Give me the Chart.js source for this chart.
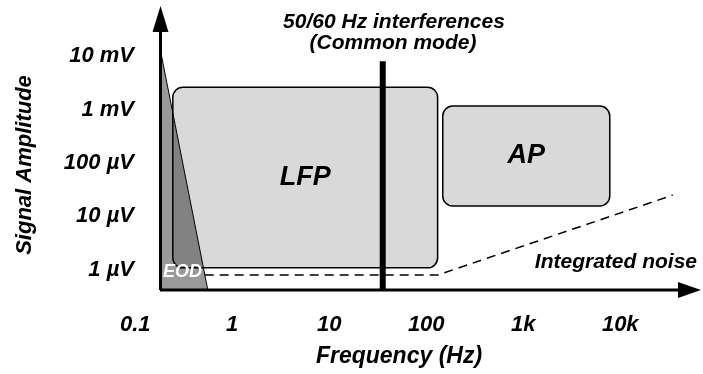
<!DOCTYPE html>
<html>
<head>
<meta charset="utf-8">
<script src="https://cdn.jsdelivr.net/npm/chart.js@4/dist/chart.umd.min.js"></script>
<style>
	html, body { margin: 0; padding: 0; background: #fff; }
</style>
</head>
<body>
<canvas id="grafico" width="703" height="374"></canvas>
<script>
// assi: frequenza in Hz, ampiezza in µV (entrambi logaritmici)
const X_RANGE = [0.18, 68000];
const Y_RANGE = [0.42, 86000];
const freqTicks = [0.1, 1, 10, 100, 1000, 10000];
const freqLabels = ['0.1', '1', '10', '100', '1k', '10k'];
const ampTicks = [1, 10, 100, 1000, 10000];
const ampLabels = ['1 µV', '10 µV', '100 µV', '1 mV', '10 mV'];

// riquadri LFP e AP: [min, max]
const lfpFreq = [0.244, 131];
const lfpAmp = [1.09, 2600];
const apFreq = [148, 7800];
const apAmp = [15.7, 1160];

// EOD (triangolo)
const eodFreq = [0.18, 0.56];
const eodAmp = [14000, 0.42];

// interferenze di rete
const reteFreq = [35.6, 35.6];
const reteAmp = [0.42, 8000];

// rumore integrato
const rumoreFreq = [0.52, 131, 159, 34800];
const rumoreAmp = [0.8, 0.8, 0.9, 25];

const FONT = 'Liberation Sans, Arial, sans-serif';
const font = (px) => 'italic bold ' + px + 'px ' + FONT;
const punti = (xs, ys) => xs.map((v, i) => ({ x: v, y: ys[i] }));

const disegno = {
	id: 'disegno',
	beforeDatasetsDraw(chart){
		const { ctx, scales: { x, y } } = chart;
		ctx.save();
		[[lfpFreq, lfpAmp], [apFreq, apAmp]].forEach(([f, a]) => {
			const x0 = x.getPixelForValue(f[0]), x1 = x.getPixelForValue(f[1]);
			const y0 = y.getPixelForValue(a[1]), y1 = y.getPixelForValue(a[0]);
			ctx.beginPath();
			ctx.roundRect(x0, y0, x1 - x0, y1 - y0, 10);
			ctx.fillStyle = '#d9d9d9';
			ctx.fill();
			ctx.lineWidth = 1.5;
			ctx.strokeStyle = '#000';
			ctx.stroke();
		});
		ctx.restore();
	},
	afterDatasetsDraw(chart){
		const { ctx, chartArea: a, scales: { x, y } } = chart;
		ctx.save();
		// assi con frecce
		ctx.strokeStyle = '#000';
		ctx.fillStyle = '#000';
		ctx.lineWidth = 3;
		ctx.beginPath();
		ctx.moveTo(a.left + 0.5, a.bottom);
		ctx.lineTo(a.left + 0.5, a.top + 24);
		ctx.moveTo(a.left, a.bottom);
		ctx.lineTo(a.right - 21, a.bottom);
		ctx.stroke();
		ctx.beginPath();
		ctx.moveTo(a.left + 0.5, a.top);
		ctx.lineTo(a.left - 7.5, a.top + 26);
		ctx.lineTo(a.left + 8.5, a.top + 26);
		ctx.closePath();
		ctx.fill();
		ctx.beginPath();
		ctx.moveTo(a.right, a.bottom);
		ctx.lineTo(a.right - 23, a.bottom - 8);
		ctx.lineTo(a.right - 23, a.bottom + 8);
		ctx.closePath();
		ctx.fill();

		// etichette dei riquadri
		ctx.textAlign = 'center';
		ctx.textBaseline = 'middle';
		ctx.font = font(27);
		const centro = (f, amp) => [
			(x.getPixelForValue(f[0]) + x.getPixelForValue(f[1])) / 2,
			(y.getPixelForValue(amp[0]) + y.getPixelForValue(amp[1])) / 2
		];
		let [cx, cy] = centro(lfpFreq, lfpAmp);
		ctx.fillText('LFP', cx, cy);
		[cx, cy] = centro(apFreq, apAmp);
		ctx.fillText('AP', cx, cy);

		ctx.font = font(21);
		ctx.fillText('50/60 Hz interferences', 394, 22);
		ctx.fillText('(Common mode)', 393, 43);
		ctx.textAlign = 'right';
		ctx.fillText('Integrated noise', 697, 262);

		ctx.fillStyle = '#fff';
		ctx.textAlign = 'left';
		ctx.textBaseline = 'alphabetic';
		ctx.font = font(18);
		ctx.fillText('EOD', 163, 277);

		// titoli degli assi
		ctx.fillStyle = '#000';
		ctx.textAlign = 'center';
		ctx.textBaseline = 'middle';
		ctx.font = font(23);
		ctx.fillText('Frequency (Hz)', 399, 357);
		ctx.translate(25, 165);
		ctx.rotate(-Math.PI / 2);
		ctx.font = font(22);
		ctx.fillText('Signal Amplitude', 0, 0);
		ctx.restore();
	}
};

new Chart(document.getElementById('grafico'), {
	type: 'line',
	data: {
		datasets: [
			{
				label: '50/60 Hz',
				data: punti(reteFreq, reteAmp),
				borderColor: '#000',
				borderWidth: 6,
				borderCapStyle: 'butt',
				pointRadius: 0,
				order: 0
			},
			{
				label: 'EOD',
				data: punti(eodFreq, eodAmp),
				borderColor: '#000',
				borderWidth: 1,
				backgroundColor: 'rgba(0, 0, 0, 0.4)',
				fill: 'start',
				pointRadius: 0,
				order: 1
			},
			{
				label: 'Integrated noise',
				data: punti(rumoreFreq, rumoreAmp),
				borderColor: '#000',
				borderWidth: 1.5,
				borderDash: [9, 6],
				pointRadius: 0,
				order: 2
			}
		]
	},
	options: {
		responsive: false,
		animation: false,
		layout: { padding: { top: 6, right: 2, left: 0, bottom: 0 } },
		plugins: { legend: { display: false }, tooltip: { enabled: false } },
		scales: {
			x: {
				type: 'logarithmic',
				min: X_RANGE[0],
				max: X_RANGE[1],
				grid: { display: false },
				border: { display: false },
				afterBuildTicks: (s) => { s.ticks = freqTicks.map(v => ({ value: v })); },
				afterFit: (s) => { s.height = 84; s.paddingLeft = 0; s.paddingRight = 0; },
				ticks: {
					autoSkip: false,
					maxRotation: 0,
					padding: 14,
					color: '#000',
					font: { family: FONT, size: 22, style: 'italic', weight: 'bold' },
					callback: (v, i) => freqLabels[i]
				}
			},
			y: {
				type: 'logarithmic',
				min: Y_RANGE[0],
				max: Y_RANGE[1],
				grid: { display: false },
				border: { display: false },
				afterBuildTicks: (s) => { s.ticks = ampTicks.map(v => ({ value: v })); },
				afterFit: (s) => { s.width = 160; s.paddingTop = 0; s.paddingBottom = 0; },
				ticks: {
					autoSkip: false,
					padding: 18,
					color: '#000',
					font: { family: FONT, size: 22, style: 'italic', weight: 'bold' },
					callback: (v, i) => ampLabels[i]
				}
			}
		}
	},
	plugins: [disegno]
});
</script>
</body>
</html>
